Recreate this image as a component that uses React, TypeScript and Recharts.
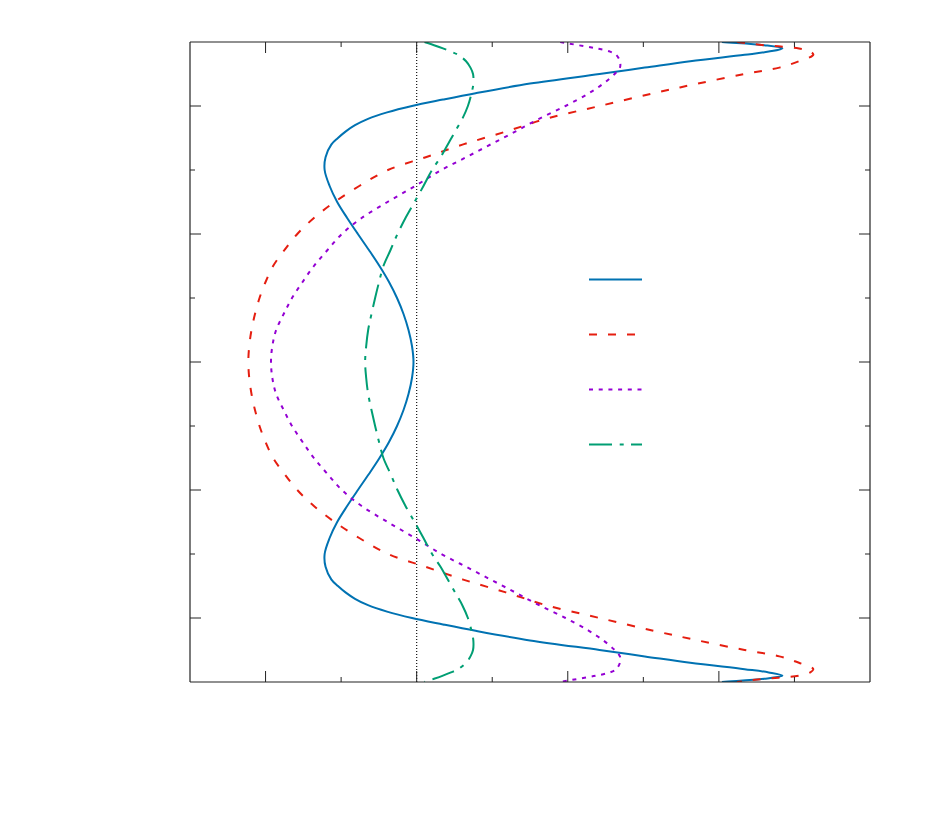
import React from 'react';
import { LineChart, Line, XAxis, YAxis, ReferenceLine, Legend } from 'recharts';

// wall-normal coordinate (vertical axis)
const yValues = [
  -1, -0.99, -0.98, -0.97, -0.96, -0.94, -0.92, -0.9, -0.87, -0.84, -0.82, -0.8, -0.78, -0.76, -0.74, -0.72, -0.7,
  -0.68, -0.64, -0.6, -0.55, -0.5, -0.45, -0.4, -0.35, -0.3, -0.25, -0.2, -0.15, -0.1, -0.05, 0,
  0.05, 0.1, 0.15, 0.2, 0.25, 0.3, 0.35, 0.4, 0.45, 0.5, 0.55, 0.6, 0.64, 0.68,
  0.7, 0.72, 0.74, 0.76, 0.78, 0.8, 0.82, 0.84, 0.87, 0.9, 0.92, 0.94, 0.96, 0.97, 0.98, 0.99, 1,
];

const blueValues: (number | null)[] = [
  2.02, 2.3, 2.42, 2.33, 2.17, 1.81, 1.51, 1.21, 0.75, 0.39, 0.174, -0.031, -0.196, -0.322, -0.408, -0.471, -0.521,
  -0.564, -0.603, -0.609, -0.576, -0.526, -0.46, -0.389, -0.316, -0.246, -0.183, -0.13, -0.087, -0.054, -0.031, -0.021,
  -0.031, -0.054, -0.087, -0.13, -0.183, -0.246, -0.316, -0.389, -0.46, -0.526, -0.576, -0.609, -0.603, -0.564,
  -0.521, -0.471, -0.408, -0.322, -0.196, -0.031, 0.174, 0.39, 0.75, 1.21, 1.51, 1.81, 2.17, 2.33, 2.42, 2.3, 2.02,
];

const redValues: (number | null)[] = [
  2.12, 2.3, 2.53, 2.605, 2.625, 2.53, 2.4, 2.17, 1.86, 1.57, null, 1.21, null, 0.857, null, 0.59, null,
  0.308, 0.06, -0.19, -0.38, -0.543, -0.68, -0.79, -0.875, -0.95, -1.0, -1.04, -1.07, -1.093, -1.108, -1.114,
  -1.108, -1.093, -1.07, -1.04, -1.0, -0.95, -0.875, -0.79, -0.68, -0.543, -0.38, -0.19, 0.06, 0.308,
  null, 0.59, null, 0.857, null, 1.21, null, 1.57, 1.86, 2.17, 2.4, 2.53, 2.625, 2.605, 2.53, 2.3, 2.12,
];

const purpleValues: (number | null)[] = [
  0.95, 1.07, 1.19, 1.28, 1.32, 1.345, 1.345, 1.31, 1.235, 1.14, null, 0.985, null, 0.81, null, 0.652, null,
  0.49, 0.328, 0.163, -0.01, -0.193, -0.364, -0.495, -0.59, -0.68, -0.755, -0.825, -0.88, -0.93, -0.955, -0.964,
  -0.955, -0.93, -0.88, -0.825, -0.755, -0.68, -0.59, -0.495, -0.364, -0.193, -0.01, 0.163, 0.328, 0.49,
  null, 0.652, null, 0.81, null, 0.985, null, 1.14, 1.235, 1.31, 1.345, 1.345, 1.32, 1.28, 1.19, 1.07, 0.95,
];

const greenValues: (number | null)[] = [
  0.052, 0.115, 0.174, 0.227, 0.274, 0.327, 0.356, 0.373, 0.375, 0.363, null, 0.339, null, 0.302, null, 0.254, null,
  0.206, 0.158, 0.102, 0.045, -0.014, -0.074, -0.127, -0.173, -0.22, -0.249, -0.275, -0.299, -0.321, -0.334, -0.341,
  -0.334, -0.321, -0.299, -0.275, -0.249, -0.22, -0.173, -0.127, -0.074, -0.014, 0.045, 0.102, 0.158, 0.206,
  null, 0.254, null, 0.302, null, 0.339, null, 0.363, 0.375, 0.373, 0.356, 0.327, 0.274, 0.227, 0.174, 0.115, 0.052,
];

const xTicks = [-1.5, -1, -0.5, 0, 0.5, 1, 1.5, 2, 2.5, 3];
const yTicks = [-1, -0.8, -0.6, -0.4, -0.2, 0, 0.2, 0.4, 0.6, 0.8, 1];
const xDomain: [number, number] = [-1.5, 3];
const yDomain: [number, number] = [-1, 1];

const SERIES = [
  { key: 's1', values: blueValues, color: '#0072b2', dash: undefined as string | undefined },
  { key: 's2', values: redValues, color: '#e51e10', dash: '8 11' },
  { key: 's3', values: purpleValues, color: '#9400d3', dash: '4 5.7' },
  { key: 's4', values: greenValues, color: '#009e73', dash: '23 7.7 4 7.3' },
];

const data = yValues.map((y, i) => {
  const row: Record<string, number | null> = { y };
  SERIES.forEach((s) => {
    row[s.key] = s.values[i];
  });
  return row;
});

// centripetal Catmull-Rom curve factory (smooth, passes through every point)
function catmullRom(context: any) {
  let pts: [number, number][] = [];
  const alpha = 0.5;
  const eps = 1e-9;
  return {
    areaStart() {},
    areaEnd() {},
    lineStart() {
      pts = [];
    },
    point(x: number, y: number) {
      pts.push([+x, +y]);
    },
    lineEnd() {
      const n = pts.length;
      if (!n) return;
      context.moveTo(pts[0][0], pts[0][1]);
      if (n === 1) return;
      for (let i = 0; i < n - 1; i++) {
        const p1 = pts[i];
        const p2 = pts[i + 1];
        const p0 = i > 0 ? pts[i - 1] : p1;
        const p3 = i + 2 < n ? pts[i + 2] : p2;
        const d = (a: [number, number], b: [number, number]) => Math.hypot(b[0] - a[0], b[1] - a[1]);
        const l01a = Math.pow(d(p0, p1), alpha), l01_2a = l01a * l01a;
        const l12a = Math.pow(d(p1, p2), alpha), l12_2a = l12a * l12a;
        const l23a = Math.pow(d(p2, p3), alpha), l23_2a = l23a * l23a;
        let c1x: number, c1y: number, c2x: number, c2y: number;
        if (l01a > eps) {
          const a = 2 * l01_2a + 3 * l01a * l12a + l12_2a;
          const nn = 3 * l01a * (l01a + l12a);
          c1x = (p1[0] * a - p0[0] * l12_2a + p2[0] * l01_2a) / nn;
          c1y = (p1[1] * a - p0[1] * l12_2a + p2[1] * l01_2a) / nn;
        } else {
          c1x = p1[0] + (p2[0] - p1[0]) / 3;
          c1y = p1[1] + (p2[1] - p1[1]) / 3;
        }
        if (l23a > eps) {
          const b = 2 * l23_2a + 3 * l23a * l12a + l12_2a;
          const m = 3 * l23a * (l23a + l12a);
          c2x = (p2[0] * b + p1[0] * l23_2a - p3[0] * l12_2a) / m;
          c2y = (p2[1] * b + p1[1] * l23_2a - p3[1] * l12_2a) / m;
        } else {
          c2x = p2[0] - (p2[0] - p1[0]) / 3;
          c2y = p2[1] - (p2[1] - p1[1]) / 3;
        }
        context.bezierCurveTo(c1x, c1y, c2x, c2y, p2[0], p2[1]);
      }
    },
  };
}

const MAJOR = 11;
const MINOR = 5;
const isMajorX = (v: number) => Math.abs(v - Math.round(v)) < 1e-9;
const isMajorY = (v: number) => Math.round(v * 10) % 4 === 0;

function makeTick(dir: 'up' | 'down' | 'left' | 'right', isMajor: (v: number) => boolean, ends: [number, number]) {
  return (props: any) => {
    const { x, y, payload } = props;
    const v = payload.value as number;
    if (Math.abs(v - ends[0]) < 1e-9 || Math.abs(v - ends[1]) < 1e-9) return <g />;
    const len = isMajor(v) ? MAJOR : MINOR;
    let x2 = x;
    let y2 = y;
    if (dir === 'up') y2 = y - len;
    if (dir === 'down') y2 = y + len;
    if (dir === 'left') x2 = x - len;
    if (dir === 'right') x2 = x + len;
    return <line x1={x} y1={y} x2={x2} y2={y2} stroke="#222" strokeWidth={1} />;
  };
}

const LegendContent = (props: any) => {
  const payload = (props.payload || []) as any[];
  return (
    <svg width={56} height={180} style={{ display: 'block' }}>
      {payload.map((entry, i) => {
        const s = SERIES.find((ss) => ss.key === entry.dataKey) || SERIES[i];
        return (
          <line
            key={s.key}
            x1={0}
            x2={53}
            y1={4.5 + i * 55}
            y2={4.5 + i * 55}
            stroke={entry.color || s.color}
            strokeWidth={2}
            strokeDasharray={s.dash}
          />
        );
      })}
    </svg>
  );
};

const axisLineStyle = { stroke: '#222', strokeWidth: 1.2 };

export default function App() {
  return (
    <div style={{ position: 'absolute', left: 0, top: 0, background: '#fff' }}>
      <LineChart
        width={934}
        height={830}
        data={data}
        layout="vertical"
        margin={{ top: 41, right: 63, bottom: 147, left: 189 }}
      >
        <XAxis
          xAxisId="bottom"
          type="number"
          orientation="bottom"
          domain={xDomain}
          ticks={xTicks}
          height={1}
          tickSize={0}
          tickMargin={0}
          tickLine={false}
          axisLine={axisLineStyle}
          tick={makeTick('up', isMajorX, xDomain)}
          allowDataOverflow
        />
        <XAxis
          xAxisId="top"
          type="number"
          orientation="top"
          domain={xDomain}
          ticks={xTicks}
          height={1}
          tickSize={0}
          tickMargin={0}
          tickLine={false}
          axisLine={axisLineStyle}
          tick={makeTick('down', isMajorX, xDomain)}
          allowDataOverflow
        />
        <YAxis
          yAxisId="left"
          type="number"
          dataKey="y"
          orientation="left"
          domain={yDomain}
          ticks={yTicks}
          width={1}
          tickSize={0}
          tickMargin={0}
          tickLine={false}
          axisLine={axisLineStyle}
          tick={makeTick('right', isMajorY, yDomain)}
          allowDataOverflow
        />
        <YAxis
          yAxisId="right"
          type="number"
          dataKey="y"
          orientation="right"
          domain={yDomain}
          ticks={yTicks}
          width={1}
          tickSize={0}
          tickMargin={0}
          tickLine={false}
          axisLine={axisLineStyle}
          tick={makeTick('left', isMajorY, yDomain)}
          allowDataOverflow
        />
        <ReferenceLine
          x={0}
          xAxisId="bottom"
          yAxisId="left"
          stroke="#111"
          strokeWidth={1.2}
          strokeDasharray="1 2"
        />
        {SERIES.map((s) => (
          <Line
            key={s.key}
            dataKey={s.key}
            xAxisId="bottom"
            yAxisId="left"
            type={catmullRom as any}
            connectNulls
            stroke={s.color}
            strokeWidth={2}
            strokeDasharray={s.dash}
            dot={false}
            activeDot={false}
            isAnimationActive={false}
          />
        ))}
        <Legend
          layout="horizontal"
          verticalAlign="middle"
          align="center"
          content={LegendContent}
          wrapperStyle={{ left: 589, top: 275, width: 60, margin: 0, padding: 0, lineHeight: 0 }}
        />
      </LineChart>
    </div>
  );
}
